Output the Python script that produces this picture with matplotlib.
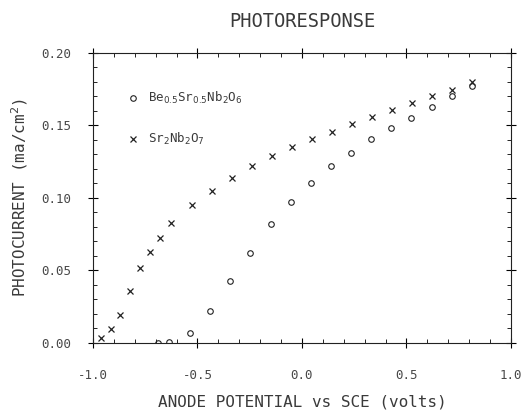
import matplotlib
matplotlib.use("Agg")
from matplotlib import pyplot as plt
from matplotlib.ticker import MultipleLocator, FormatStrFormatter

plt.rcParams['font.family'] = ['DejaVu Sans Mono', 'DejaVu Sans']

# Be0.5Sr0.5Nb2O6 (circles)
be_x = [-0.687, -0.634, -0.535, -0.439, -0.343, -0.248, -0.149, -0.053, 0.043,
        0.141, 0.236, 0.332, 0.428, 0.524, 0.623, 0.719, 0.815]
be_y = [0.000, 0.001, 0.007, 0.022, 0.043, 0.062, 0.082, 0.097, 0.110,
        0.122, 0.131, 0.141, 0.148, 0.155, 0.163, 0.170, 0.177]

# Sr2Nb2O7 (crosses)
sr_x = [-0.963, -0.915, -0.869, -0.821, -0.773, -0.725, -0.679, -0.626, -0.527,
        -0.431, -0.335, -0.240, -0.144, -0.048, 0.048, 0.144, 0.240, 0.335,
        0.431, 0.527, 0.623, 0.719, 0.815]
sr_y = [0.0034, 0.0099, 0.0195, 0.0356, 0.0515, 0.0628, 0.0726, 0.0825, 0.0952,
        0.105, 0.1138, 0.1218, 0.1287, 0.1352, 0.1407, 0.1455, 0.1508, 0.1556,
        0.1605, 0.1657, 0.1701, 0.1747, 0.1798]

ink = "#222222"
txt = "#3a3a3a"

fig = plt.figure(figsize=(5.24, 4.12), dpi=100)
ax = fig.add_axes([0.1775, 0.1675, 0.7975, 0.704])

ax.plot(be_x, be_y, linestyle="none", marker="o", markersize=4,
        markerfacecolor="none", markeredgecolor=ink, markeredgewidth=0.8,
        label=r"Be$_{0.5}$Sr$_{0.5}$Nb$_2$O$_6$")
ax.plot(sr_x, sr_y, linestyle="none", marker="x", markersize=4,
        color=ink, markeredgewidth=0.9, label=r"Sr$_2$Nb$_2$O$_7$")

ax.set_xlim(-1.0, 1.0)
ax.set_ylim(0.0, 0.20)
ax.xaxis.set_major_locator(MultipleLocator(0.5))
ax.xaxis.set_minor_locator(MultipleLocator(0.1))
ax.yaxis.set_major_locator(MultipleLocator(0.05))
ax.yaxis.set_minor_locator(MultipleLocator(0.01))
ax.xaxis.set_major_formatter(FormatStrFormatter("%.1f"))
ax.yaxis.set_major_formatter(FormatStrFormatter("%.2f"))
ax.tick_params(which="major", direction="inout", length=7, width=0.8,
               top=True, right=True, labelsize=9, labelcolor="#484848")
ax.tick_params(axis="x", which="major", pad=15)
ax.tick_params(axis="y", which="major", pad=12)
ax.tick_params(which="minor", direction="in", length=3, width=0.6,
               top=True, right=True)
for s in ax.spines.values():
    s.set_linewidth(0.8)
    s.set_color(ink)

ax.set_title("PHOTORESPONSE", fontsize=13.5, color=txt, pad=19)
ax.set_xlabel("ANODE POTENTIAL vs SCE (volts)", fontsize=11.5, color=txt, labelpad=9)
ax.set_ylabel(r"PHOTOCURRENT (ma/cm$^2$)", fontsize=11.5, color=txt, labelpad=8)

ax.legend(loc="upper left", bbox_to_anchor=(0.05, 0.91), frameon=False,
          fontsize=9, labelspacing=2.0, handletextpad=0.6, handlelength=1.2,
          labelcolor=txt)

fig.savefig("out.png", dpi=100)
